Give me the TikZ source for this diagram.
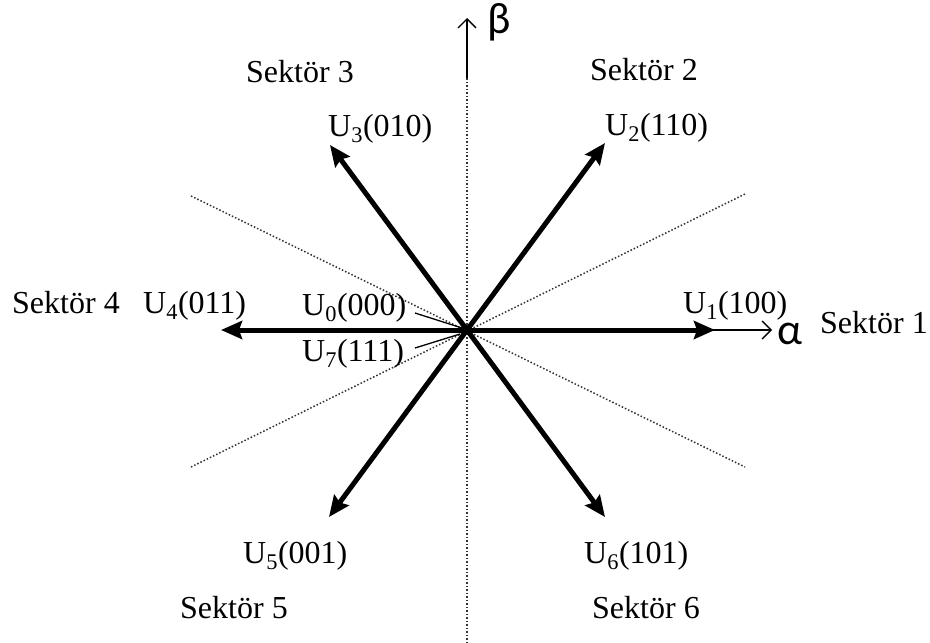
\documentclass[tikz,border=0pt]{standalone}
\usepackage{fontspec}
\setmainfont{Liberation Serif}
\newfontfamily\axfont{Carlito}
\usetikzlibrary{arrows.meta}
\begin{document}
\begin{tikzpicture}[x=1pt,y=-1pt,
  lbl/.style={font=\fontsize{32}{36}\selectfont, inner sep=0pt, anchor=base west},
  axlbl/.style={font=\axfont\fontsize{44}{50}\selectfont, inner sep=0pt, anchor=base west},
  vec/.style={line width=5pt, -{Stealth[length=21pt,width=18pt,inset=3pt]}},
  axisline/.style={line width=1.4pt, -{Straight Barb[length=9pt,width=18pt]}},
  guide/.style={line width=1.5pt, black!80, dash pattern=on 1.5pt off 2pt},
  leader/.style={line width=1.3pt}]
\useasboundingbox (0,0) rectangle (930,643);
% coordinates
\coordinate (O) at (467,330);
\coordinate (vtop) at (467,18);
\coordinate (vmid) at (467,78);
\coordinate (vbot) at (467,643);
\coordinate (htip) at (772,330);
\coordinate (dA1) at (191,196);
\coordinate (dA2) at (745,467);
\coordinate (dB1) at (191,467);
\coordinate (dB2) at (745,194);
\coordinate (t1) at (715,330);
\coordinate (t2) at (605,143);
\coordinate (t3) at (330,145);
\coordinate (t4) at (221,330);
\coordinate (t5) at (329,517);
\coordinate (t6) at (605,517);
\coordinate (l0a) at (415,313);
\coordinate (l0b) at (462,328);
\coordinate (l7a) at (415,348);
\coordinate (l7b) at (460,334);
% guides and axes
\draw[guide] (vmid) -- (vbot);
\draw[guide] (dA1) -- (dA2);
\draw[guide] (dB1) -- (dB2);
\draw[axisline] (vmid) -- (vtop);
\draw[axisline] (O) -- (htip);
% vectors
\draw[vec] (O) -- (t1);
\draw[vec] (O) -- (t2);
\draw[vec] (O) -- (t3);
\draw[vec] (O) -- (t4);
\draw[vec] (O) -- (t5);
\draw[vec] (O) -- (t6);
% leaders
\draw[leader] (l0a) -- (l0b);
\draw[leader] (l7a) -- (l7b);
% labels
\node[lbl] (u1) at (683,313) {U\textsubscript{1}(100)};
\node[lbl] (u2) at (605,135) {U\textsubscript{2}(110)};
\node[lbl] (u3) at (328,136) {U\textsubscript{3}(010)};
\node[lbl] (u4) at (143,313) {U\textsubscript{4}(011)};
\node[lbl] (u5) at (243,563) {U\textsubscript{5}(001)};
\node[lbl] (u6) at (584,563) {U\textsubscript{6}(101)};
\node[lbl] (u0) at (302,315) {U\textsubscript{0}(000)};
\node[lbl] (u7) at (302,361) {U\textsubscript{7}(111)};
\node[lbl] (s1) at (820,333) {Sektör 1};
\node[lbl] (s2) at (590,80) {Sektör 2};
\node[lbl] (s3) at (246,82) {Sektör 3};
\node[lbl] (s4) at (12,313) {Sektör 4};
\node[lbl] (s5) at (180,618) {Sektör 5};
\node[lbl] (s6) at (592,618) {Sektör 6};
\node[axlbl] (al) at (777,344) {α};
\node[axlbl] (be) at (487,33) {β};
\end{tikzpicture}
\end{document}
